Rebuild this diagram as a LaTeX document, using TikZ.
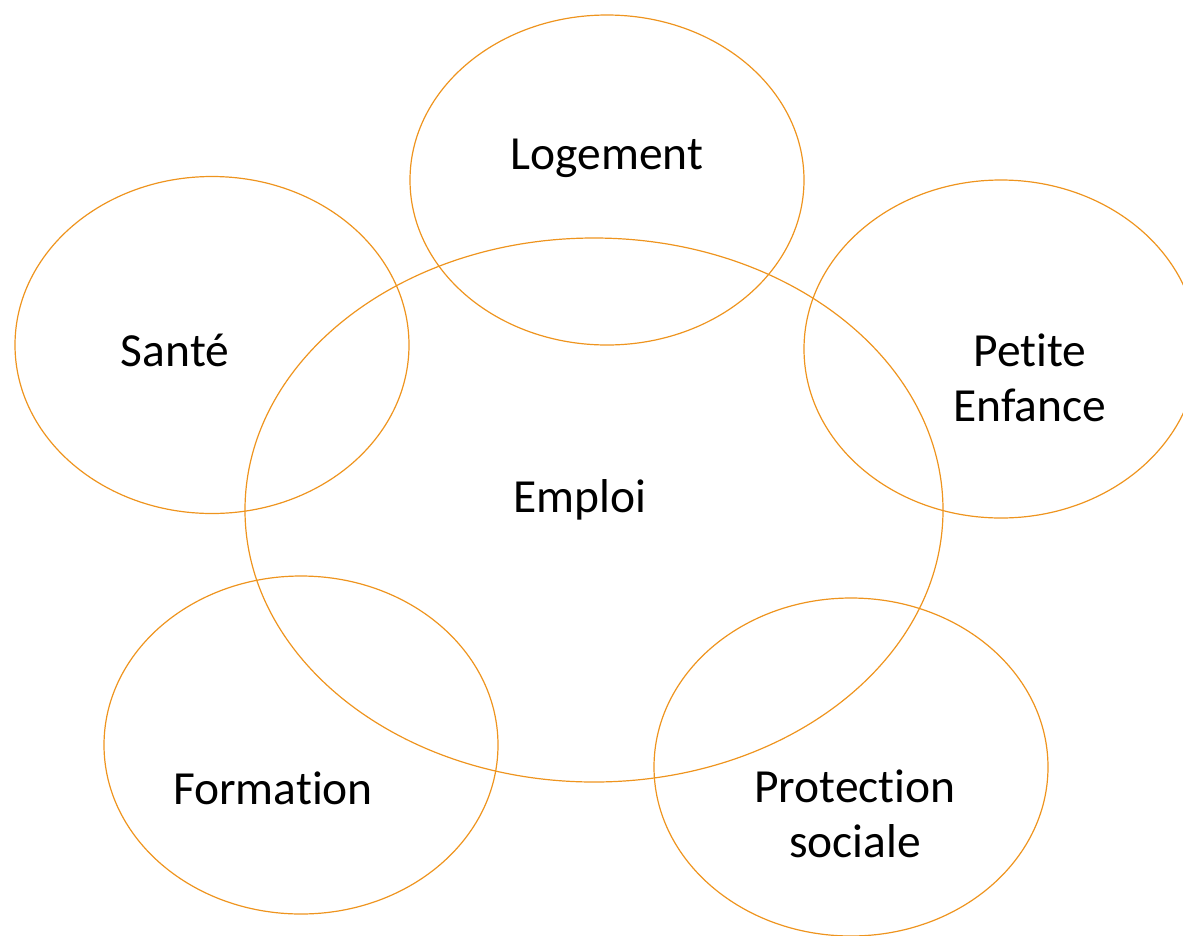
\documentclass[tikz,border=0pt]{standalone}
\usepackage{fontspec}
\setmainfont[Ligatures=CommonOff]{Carlito}
\usetikzlibrary{shapes.geometric}
\definecolor{ringorange}{RGB}{238,148,30}
\tikzset{
	ring/.style={draw=ringorange, line width=1.2pt, ellipse, inner sep=0pt},
	theme/.style={align=center, font=\fontsize{47.5}{55}\selectfont}
}
\begin{document}
\begin{tikzpicture}[x=1pt, y=-1pt]
		\useasboundingbox (0,0) rectangle (1183,935);
		\clip (0,0) rectangle (1183,935);
	
		% Define rings
		\node[ring, minimum width=698pt, minimum height=544pt] (Emploi) at (594,510) {};
		\node[ring, minimum width=394pt, minimum height=330pt] (Logement) at (607,180) {};
		\node[ring, minimum width=394pt, minimum height=337pt] (Sante) at (212,345) {};
		\node[ring, minimum width=394pt, minimum height=338pt] (Petite) at (1001,349) {};
		\node[ring, minimum width=394pt, minimum height=338pt] (Formation) at (301,745) {};
		\node[ring, minimum width=394pt, minimum height=338pt] (Protection) at (851,767) {};
	
		% Define texts
		\node[theme] (TEmploi) at (580,500) {Emploi};
		\node[theme] (TLogement) at (607,158) {Logement};
		\node[theme] (TSante) at (175,350) {Santé};
		\node[theme] (TPetite) at (1030,378) {Petite\\Enfance};
		\node[theme] (TFormation) at (273,788) {Formation};
		\node[theme] (TProtection) at (855,814) {Protection\\sociale};
	\end{tikzpicture}
\end{document}
